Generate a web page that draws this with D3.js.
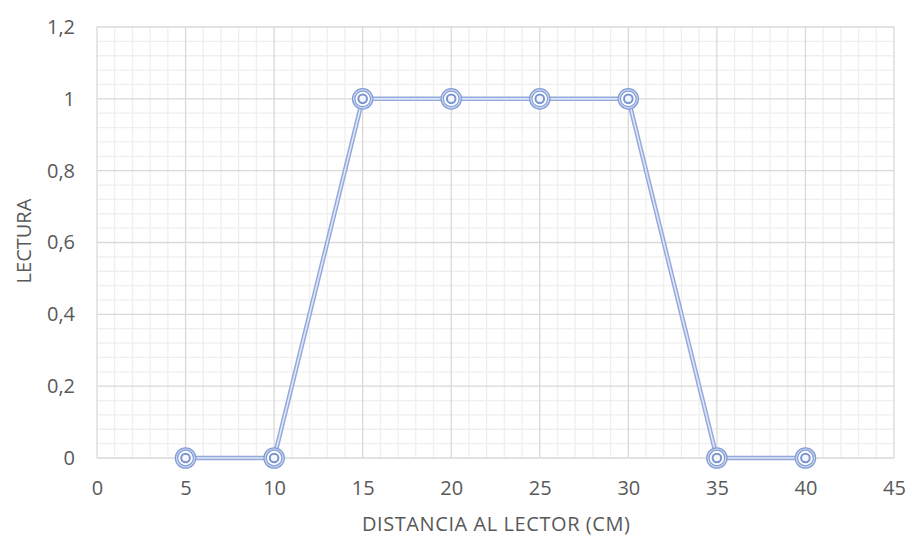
<!DOCTYPE html>
<html>
<head>
<meta charset="utf-8">
<script src="https://cdn.jsdelivr.net/npm/d3@7"></script>
<style>
  html, body { margin: 0; padding: 0; background: #fff; }
  svg { display: block; font-family: "Open Sans", Lato, sans-serif; }
</style>
</head>
<body>
<svg id="chart" width="909" height="538"></svg>
<script>
// Distance to reader (cm) and corresponding reading
const distances = [5, 10, 15, 20, 25, 30, 35, 40];
const readings  = [0, 0, 1, 1, 1, 1, 0, 0];
const xTicks = [0, 5, 10, 15, 20, 25, 30, 35, 40, 45];
const yTicks = [0, 0.2, 0.4, 0.6, 0.8, 1, 1.2];
const xTitle = "DISTANCIA AL LECTOR (CM)";
const yTitle = "LECTURA";

const svg = d3.select("#chart");
const m = { left: 97, right: 894, top: 27, bottom: 458 };

const x = d3.scaleLinear().domain([0, 45]).range([m.left, m.right]);
const y = d3.scaleLinear().domain([0, 1.2]).range([m.bottom, m.top]);

const fmt = v => d3.format(".1~f")(v).replace(".", ",");

// Minor grid
const g = svg.append("g");
g.selectAll("line.mx").data(d3.range(0, 46, 1).filter(v => v % 5 !== 0))
  .join("line").attr("x1", d => x(d)).attr("x2", d => x(d))
  .attr("y1", m.top).attr("y2", m.bottom)
  .attr("stroke", "#efefef").attr("stroke-width", 1.3);
g.selectAll("line.my").data(d3.range(0, 31, 1).filter(v => v % 5 !== 0).map(v => v * 0.04))
  .join("line").attr("y1", d => y(d)).attr("y2", d => y(d))
  .attr("x1", m.left).attr("x2", m.right)
  .attr("stroke", "#efefef").attr("stroke-width", 1.3);

// Major grid
g.append("g").selectAll("line").data(xTicks)
  .join("line").attr("x1", d => x(d)).attr("x2", d => x(d))
  .attr("y1", m.top).attr("y2", m.bottom)
  .attr("stroke", "#d9d9d9").attr("stroke-width", 1.3);
g.append("g").selectAll("line").data(yTicks)
  .join("line").attr("y1", d => y(d)).attr("y2", d => y(d))
  .attr("x1", m.left).attr("x2", m.right)
  .attr("stroke", "#d9d9d9").attr("stroke-width", 1.3);

// Tick labels via d3 axes
const xAxis = svg.append("g").attr("transform", `translate(0,${m.bottom})`)
  .call(d3.axisBottom(x).tickValues(xTicks).tickSize(0).tickPadding(37).tickFormat(d => d));
const yAxis = svg.append("g").attr("transform", `translate(${m.left},0)`)
  .call(d3.axisLeft(y).tickValues(yTicks).tickSize(0).tickPadding(22).tickFormat(fmt));
[xAxis, yAxis].forEach(a => {
  a.select(".domain").remove();
  a.selectAll("text").attr("fill", "#595959").attr("font-size", 20)
    .attr("font-family", "'Open Sans', Lato, sans-serif");
});
xAxis.selectAll("text").attr("dy", "0");

// Axis titles
svg.append("text").attr("x", 362).attr("y", 531)
  .attr("text-anchor", "start").attr("fill", "#595959").attr("font-size", 20)
  .attr("textLength", 268).attr("lengthAdjust", "spacing")
  .text(xTitle);
svg.append("text")
  .attr("transform", `translate(31,241) rotate(-90)`)
  .attr("text-anchor", "middle").attr("fill", "#595959").attr("font-size", 20)
  .text(yTitle);

// Series line: double stroke
const pts = distances.map((d, i) => [d, readings[i]]);
const line = d3.line().x(d => x(d[0])).y(d => y(d[1]));
svg.append("path").datum(pts).attr("d", line)
  .attr("fill", "none").attr("stroke", "#93a9dc").attr("stroke-width", 4.5)
  .attr("stroke-linejoin", "round");
svg.append("path").datum(pts).attr("d", line)
  .attr("fill", "none").attr("stroke", "#dfe6f6").attr("stroke-width", 1.6)
  .attr("stroke-linejoin", "round");

// Markers: double ring with inner circle
const mk = svg.append("g").selectAll("g").data(pts).join("g")
  .attr("transform", d => `translate(${x(d[0])},${y(d[1])})`);
mk.append("circle").attr("r", 9).attr("fill", "#fff")
  .attr("stroke", "#849dd6").attr("stroke-width", 3.6);
mk.append("circle").attr("r", 9).attr("fill", "none")
  .attr("stroke", "#cdd8f1").attr("stroke-width", 1.2);
mk.append("circle").attr("r", 4.3).attr("fill", "#f4f6fc")
  .attr("stroke", "#7893d0").attr("stroke-width", 2);
</script>
</body>
</html>
